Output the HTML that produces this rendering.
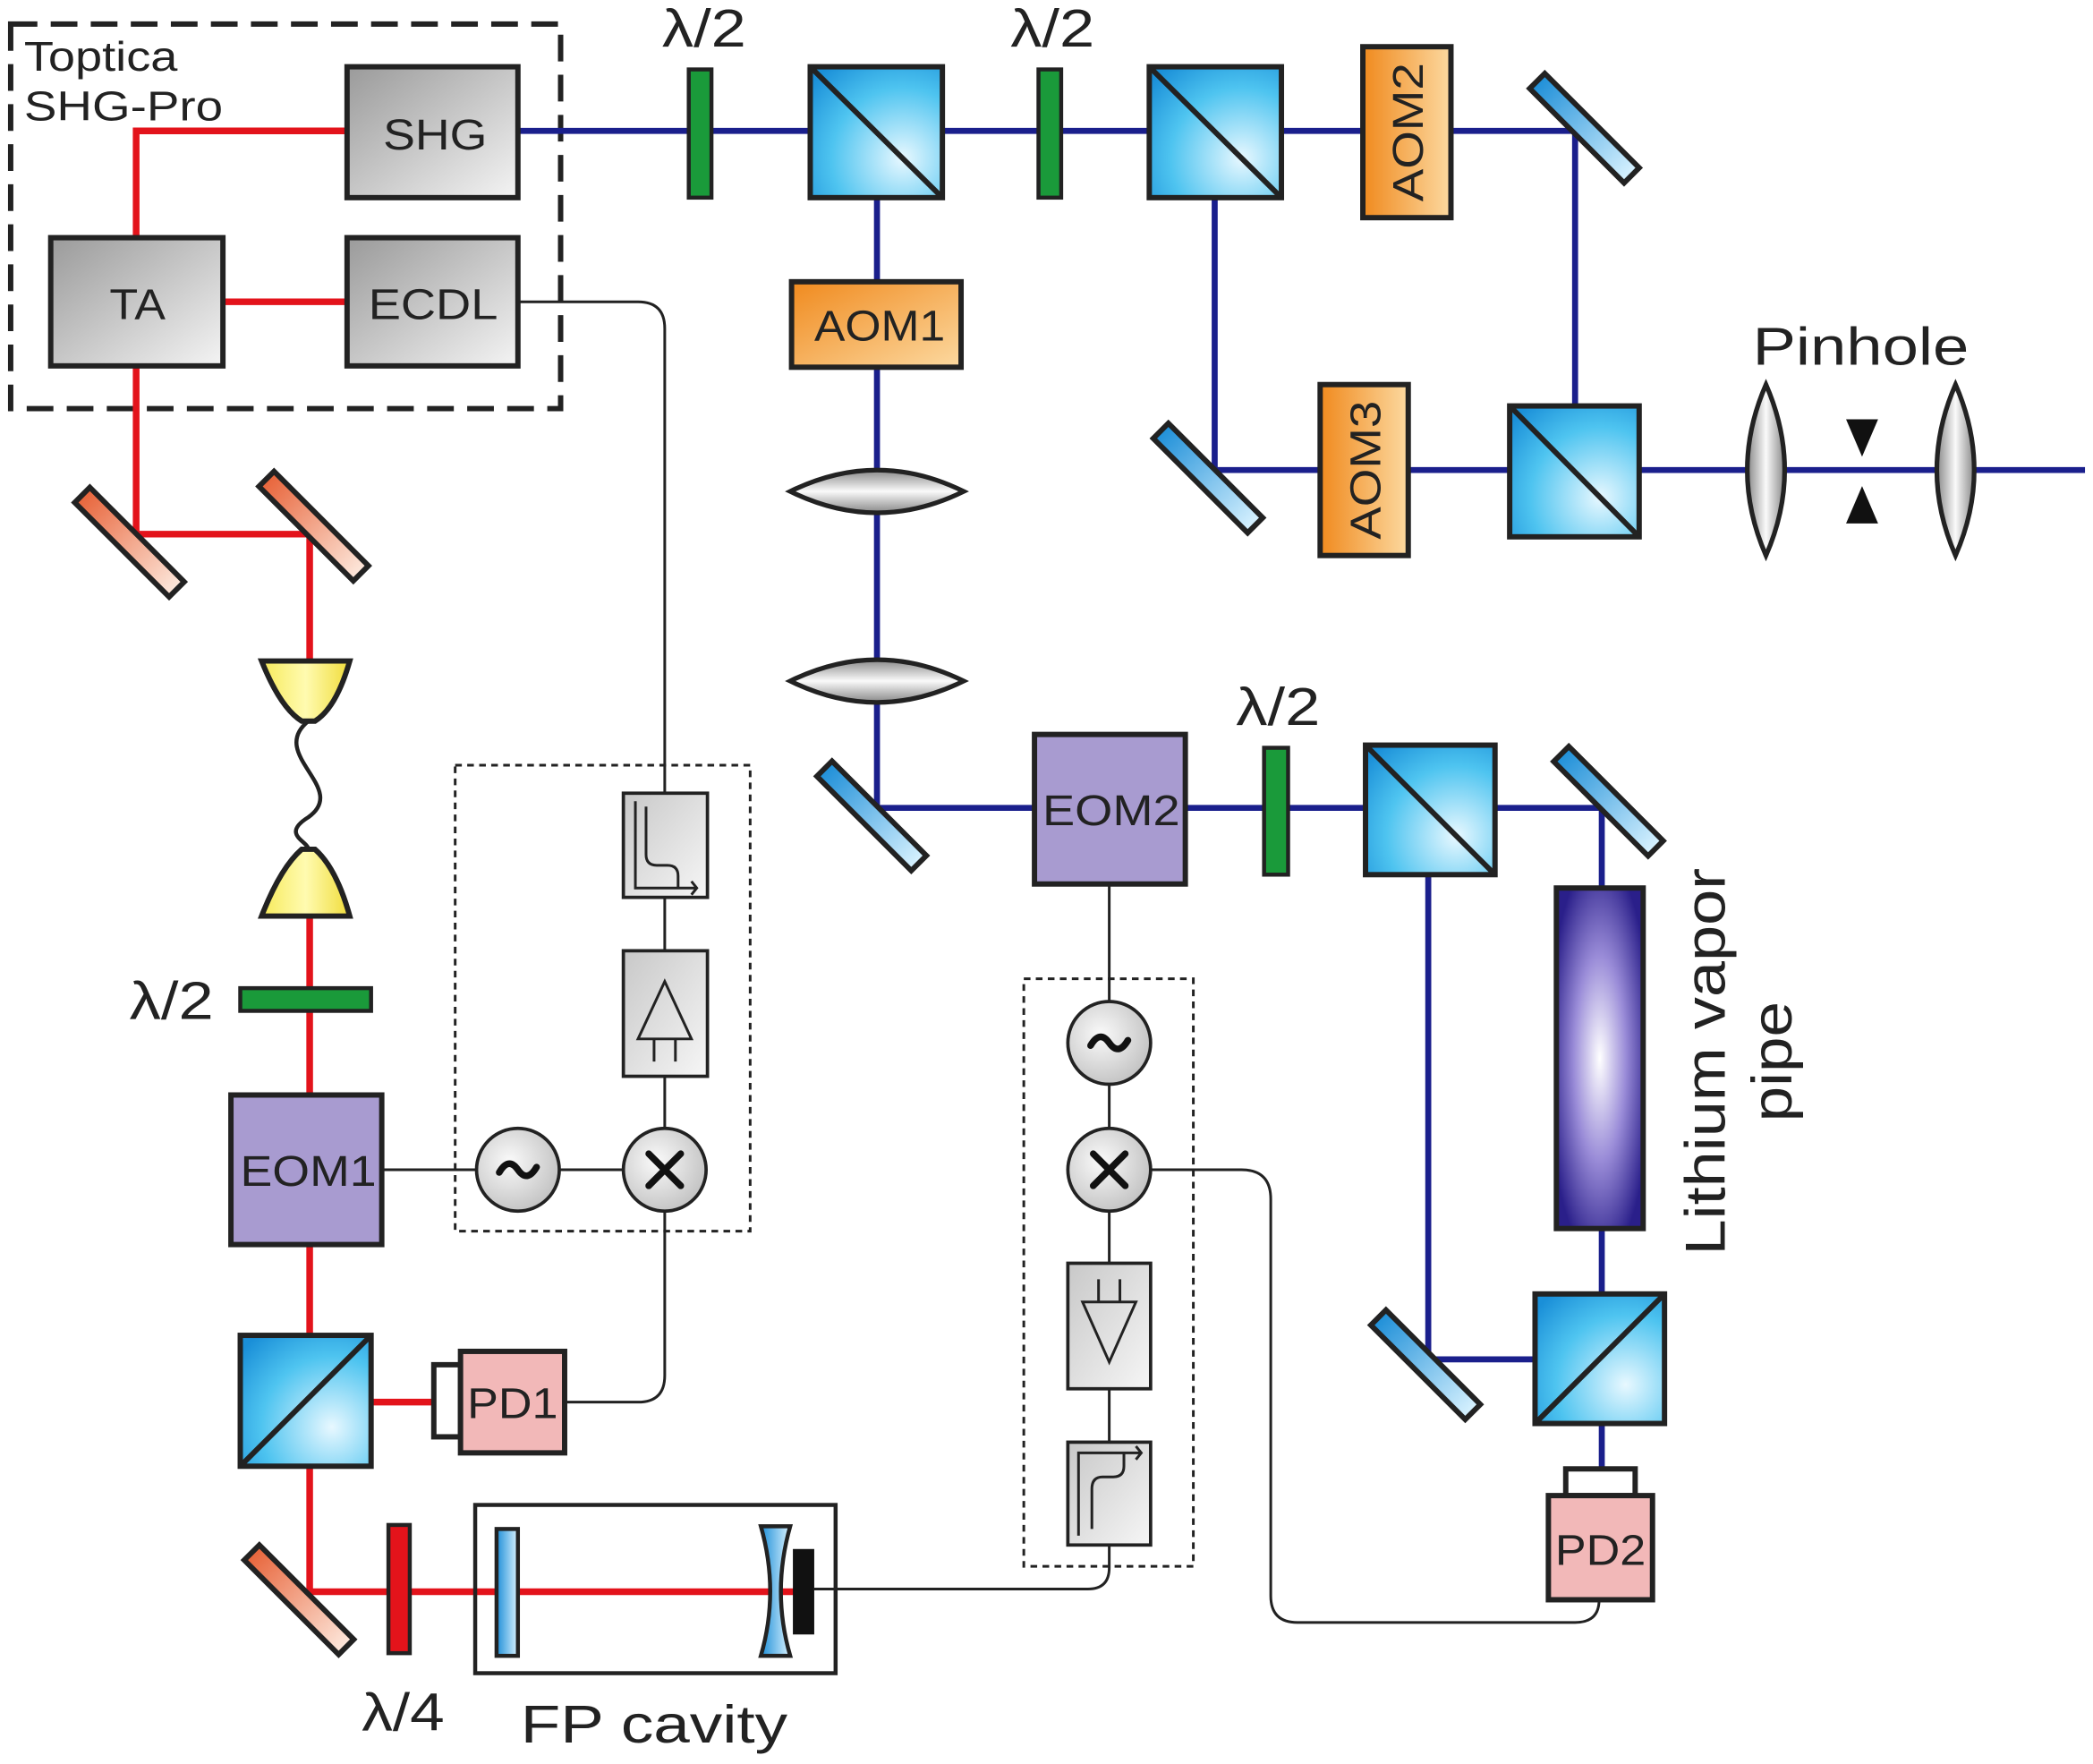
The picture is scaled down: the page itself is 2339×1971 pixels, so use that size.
<!DOCTYPE html>
<html><head><meta charset="utf-8"><style>html,body{margin:0;padding:0;background:#fff}svg{display:block}</style></head>
<body>
<svg width="2339" height="1971" viewBox="0 0 1568 1321" preserveAspectRatio="none" xmlns="http://www.w3.org/2000/svg" font-family="Liberation Sans, Arial, sans-serif">
<defs>
<linearGradient id="gray" x1="0" y1="0" x2="1" y2="1"><stop offset="0" stop-color="#9a9a9a"/><stop offset="1" stop-color="#f4f4f4"/></linearGradient>
<linearGradient id="gray2" x1="0" y1="0" x2="1" y2="1"><stop offset="0" stop-color="#c8c8c8"/><stop offset="1" stop-color="#f6f6f6"/></linearGradient>
<radialGradient id="cube" cx="0.7" cy="0.7" r="0.9"><stop offset="0" stop-color="#e8f8ff"/><stop offset="0.6" stop-color="#4ec4f0"/><stop offset="1" stop-color="#1a8fd8"/></radialGradient>
<linearGradient id="aom" x1="0" y1="0" x2="1" y2="1"><stop offset="0" stop-color="#f08a1e"/><stop offset="1" stop-color="#fcd9a0"/></linearGradient>
<linearGradient id="aomv" x1="0" y1="0" x2="1" y2="0"><stop offset="0" stop-color="#f08a1e"/><stop offset="1" stop-color="#fcd9a0"/></linearGradient>
<linearGradient id="mo" x1="0" y1="0" x2="1" y2="0"><stop offset="0" stop-color="#e8643a"/><stop offset="1" stop-color="#fde8dc"/></linearGradient>
<linearGradient id="mb" x1="0" y1="0" x2="1" y2="0"><stop offset="0" stop-color="#1e8fd8"/><stop offset="1" stop-color="#d8f2ff"/></linearGradient>
<linearGradient id="lens" x1="0" y1="0" x2="0" y2="1"><stop offset="0" stop-color="#888"/><stop offset="0.5" stop-color="#fafafa"/><stop offset="1" stop-color="#888"/></linearGradient>
<linearGradient id="lensv" x1="0" y1="0" x2="1" y2="0"><stop offset="0" stop-color="#888"/><stop offset="0.5" stop-color="#fafafa"/><stop offset="1" stop-color="#888"/></linearGradient>
<radialGradient id="li" cx="0.5" cy="0.5" r="0.6"><stop offset="0" stop-color="#ffffff"/><stop offset="0.5" stop-color="#9a8cd8"/><stop offset="1" stop-color="#2a1f8a"/></radialGradient>
<radialGradient id="circ" cx="0.4" cy="0.4" r="0.7"><stop offset="0" stop-color="#fafafa"/><stop offset="1" stop-color="#bdbdbd"/></radialGradient>
<linearGradient id="yel" x1="0" y1="0" x2="1" y2="0"><stop offset="0" stop-color="#f7ea5a"/><stop offset="0.5" stop-color="#fffbb0"/><stop offset="1" stop-color="#f0dc3a"/></linearGradient>
</defs>

<rect x="8" y="18" width="412" height="288" fill="none" stroke="#222" stroke-width="4" stroke-dasharray="20 10"/>
<text x="18" y="53" font-size="31" fill="#222" textLength="115" lengthAdjust="spacingAndGlyphs">Toptica</text>
<text x="18" y="90" font-size="31" fill="#222" textLength="149" lengthAdjust="spacingAndGlyphs">SHG-Pro</text>

<g stroke="#e3131b" stroke-width="5" fill="none">
<polyline points="260,98 102,98 102,178"/>
<line x1="167" y1="226" x2="260" y2="226"/>
<polyline points="102,274 102,400 232,400 232,500"/>
<line x1="232" y1="686" x2="232" y2="1192"/>
<line x1="232" y1="1050" x2="325" y2="1050"/>
<line x1="232" y1="1192" x2="595" y2="1192"/>
</g>

<g stroke="#1a1f8c" stroke-width="4.5" fill="none">
<polyline points="388,98 1180,98 1180,352"/>
<line x1="657" y1="98" x2="657" y2="605"/>
<polyline points="657,605 1200,605 1200,1120"/>
<polyline points="910,98 910,352 1562,352"/>
<polyline points="1070,605 1070,1018 1200,1018"/>
</g>

<g stroke="#222" stroke-width="2" fill="none">
<path d="M388,226 H478 Q498,226 498,246 V594"/>
<line x1="498" y1="672" x2="498" y2="712"/>
<line x1="498" y1="806" x2="498" y2="845"/>
<line x1="286" y1="876" x2="357" y2="876"/>
<line x1="419" y1="876" x2="467" y2="876"/>
<path d="M498,907 V1030 Q498,1050 478,1050 H423"/>
<line x1="831" y1="662" x2="831" y2="750"/>
<line x1="831" y1="812" x2="831" y2="845"/>
<line x1="831" y1="907" x2="831" y2="946"/>
<line x1="831" y1="1040" x2="831" y2="1080"/>
<path d="M610,1190 H815 Q831,1190 831,1174 V1157"/>
<path d="M862,876 H930 Q952,876 952,898 V1195 Q952,1215 972,1215 H1180 Q1198,1215 1198,1198"/>
</g>

<g stroke="#222" stroke-width="4">
<rect x="260" y="50" width="128" height="98" fill="url(#gray)"/>
<rect x="38" y="178" width="129" height="96" fill="url(#gray)"/>
<rect x="260" y="178" width="128" height="96" fill="url(#gray)"/>
</g>
<g font-size="32" fill="#222" lengthAdjust="spacingAndGlyphs">
<text x="287" y="112" textLength="78" lengthAdjust="spacingAndGlyphs">SHG</text>
<text x="82" y="239" textLength="42" lengthAdjust="spacingAndGlyphs">TA</text>
<text x="276" y="239" textLength="97" lengthAdjust="spacingAndGlyphs">ECDL</text>
</g>

<g stroke="#222" stroke-width="4">
<rect x="-50" y="-8" width="100" height="16" fill="url(#mo)" transform="translate(97,406) rotate(45)"/>
<rect x="-50" y="-8" width="100" height="16" fill="url(#mo)" transform="translate(235,394) rotate(45)"/>
<rect x="-50" y="-8" width="100" height="16" fill="url(#mo)" transform="translate(224,1198) rotate(45)"/>
<rect x="-50" y="-8" width="100" height="16" fill="url(#mb)" transform="translate(1187,96) rotate(45)"/>
<rect x="-50" y="-8" width="100" height="16" fill="url(#mb)" transform="translate(905,358) rotate(45)"/>
<rect x="-50" y="-8" width="100" height="16" fill="url(#mb)" transform="translate(653,611) rotate(45)"/>
<rect x="-50" y="-8" width="100" height="16" fill="url(#mb)" transform="translate(1205,600) rotate(45)"/>
<rect x="-50" y="-8" width="100" height="16" fill="url(#mb)" transform="translate(1068,1022) rotate(45)"/>
</g>

<g stroke="#222" stroke-width="4">
<path d="M196,495 H262 Q252,530 236,540 H226 Q210,530 196,495 Z" fill="url(#yel)"/>
<path d="M196,686 H262 Q252,650 236,636 H226 Q210,650 196,686 Z" fill="url(#yel)"/>
<path d="M231,540 C200,565 262,590 231,612 C210,625 231,630 231,636" fill="none" stroke-width="3"/>
</g>

<g stroke="#222" stroke-width="3">
<rect x="180" y="740" width="98" height="17" fill="#1a9a3a"/>
<rect x="516" y="52" width="17" height="96" fill="#1a9a3a"/>
<rect x="778" y="52" width="17" height="96" fill="#1a9a3a"/>
<rect x="947" y="560" width="18" height="95" fill="#1a9a3a"/>
<rect x="291" y="1142" width="16" height="96" fill="#e3131b"/>
</g>
<g font-size="40" fill="#222">
<text x="97" y="763" textLength="63" lengthAdjust="spacingAndGlyphs">λ/2</text>
<text x="496" y="35" textLength="63" lengthAdjust="spacingAndGlyphs">λ/2</text>
<text x="757" y="35" textLength="63" lengthAdjust="spacingAndGlyphs">λ/2</text>
<text x="926" y="543" textLength="63" lengthAdjust="spacingAndGlyphs">λ/2</text>
<text x="271" y="1296" textLength="62" lengthAdjust="spacingAndGlyphs">λ/4</text>
<text x="390" y="1305" textLength="200" lengthAdjust="spacingAndGlyphs">FP cavity</text>
<text x="1313" y="273" textLength="162" lengthAdjust="spacingAndGlyphs">Pinhole</text>
</g>

<g stroke="#222" stroke-width="4" fill="#a89bd0">
<rect x="173" y="820" width="113" height="112"/>
<rect x="775" y="550" width="113" height="112"/>
</g>
<g font-size="32" fill="#222">
<text x="180" y="888" textLength="102" lengthAdjust="spacingAndGlyphs">EOM1</text>
<text x="781" y="618" textLength="103" lengthAdjust="spacingAndGlyphs">EOM2</text>
</g>

<g stroke="#222" stroke-width="4" fill="url(#cube)">
<rect x="607" y="50" width="99" height="98"/><line x1="607" y1="50" x2="706" y2="148"/>
<rect x="861" y="50" width="99" height="98"/><line x1="861" y1="50" x2="960" y2="148"/>
<rect x="1131" y="304" width="97" height="98"/><line x1="1131" y1="304" x2="1228" y2="402"/>
<rect x="1023" y="558" width="97" height="97"/><line x1="1023" y1="558" x2="1120" y2="655"/>
<rect x="1150" y="969" width="97" height="97"/><line x1="1150" y1="1066" x2="1247" y2="969"/>
<rect x="180" y="1000" width="98" height="98"/><line x1="180" y1="1098" x2="278" y2="1000"/>
</g>

<g stroke="#222" stroke-width="4">
<rect x="593" y="211" width="127" height="64" fill="url(#aom)"/>
<rect x="1021" y="35" width="66" height="128" fill="url(#aomv)"/>
<rect x="989" y="288" width="66" height="128" fill="url(#aomv)"/>
</g>
<g font-size="32" fill="#222">
<text x="610" y="255" textLength="98" lengthAdjust="spacingAndGlyphs">AOM1</text>
<text transform="translate(1066,151) rotate(-90)" textLength="104" lengthAdjust="spacingAndGlyphs">AOM2</text>
<text transform="translate(1034,404) rotate(-90)" textLength="104" lengthAdjust="spacingAndGlyphs">AOM3</text>
</g>

<g stroke="#222" stroke-width="3.5">
<path d="M592,368 Q657,336 722,368 Q657,400 592,368 Z" fill="url(#lens)"/>
<path d="M592,510 Q657,478 722,510 Q657,542 592,510 Z" fill="url(#lens)"/>
<path d="M1323,288 Q1295,352 1323,416 Q1351,352 1323,288 Z" fill="url(#lensv)"/>
<path d="M1465,288 Q1437,352 1465,416 Q1493,352 1465,288 Z" fill="url(#lensv)"/>
</g>
<polygon points="1383,314 1407,314 1395,342" fill="#111"/>
<polygon points="1383,392 1407,392 1395,364" fill="#111"/>

<rect x="1166" y="665" width="65" height="255" fill="url(#li)" stroke="#222" stroke-width="4"/>
<text transform="translate(1292,940) rotate(-90)" font-size="42" fill="#222" textLength="290" lengthAdjust="spacingAndGlyphs">Lithium vapor</text>
<text transform="translate(1342,840) rotate(-90)" font-size="42" fill="#222" textLength="90" lengthAdjust="spacingAndGlyphs">pipe</text>

<g stroke="#222" stroke-width="4">
<rect x="325" y="1022" width="20" height="54" fill="#fff"/>
<rect x="345" y="1012" width="78" height="76" fill="#f2b8b8"/>
<rect x="1173" y="1100" width="52" height="20" fill="#fff"/>
<rect x="1160" y="1120" width="78" height="78" fill="#f2b8b8"/>
</g>
<g font-size="32" fill="#222">
<text x="350" y="1062" textLength="68" lengthAdjust="spacingAndGlyphs">PD1</text>
<text x="1165" y="1172" textLength="68" lengthAdjust="spacingAndGlyphs">PD2</text>
</g>

<rect x="356" y="1127" width="270" height="126" fill="none" stroke="#222" stroke-width="3"/>
<rect x="372" y="1145" width="16" height="95" fill="url(#mb)" stroke="#222" stroke-width="3"/>
<path d="M570,1143 H592 Q578,1192 592,1240 H570 Q584,1192 570,1143 Z" fill="url(#mb)" stroke="#222" stroke-width="3"/>
<rect x="594" y="1160" width="16" height="64" fill="#111"/>

<rect x="341" y="573" width="221" height="349" fill="none" stroke="#222" stroke-width="2" stroke-dasharray="5 4"/>
<rect x="767" y="733" width="127" height="440" fill="none" stroke="#222" stroke-width="2" stroke-dasharray="5 4"/>

<g stroke="#222" stroke-width="2.5">
<rect x="467" y="594" width="63" height="78" fill="url(#gray2)"/>
<rect x="467" y="712" width="63" height="94" fill="url(#gray2)"/>
<rect x="800" y="946" width="62" height="94" fill="url(#gray2)"/>
<rect x="800" y="1080" width="62" height="77" fill="url(#gray2)"/>
<circle cx="388" cy="876" r="31" fill="url(#circ)"/>
<circle cx="498" cy="876" r="31" fill="url(#circ)"/>
<circle cx="831" cy="781" r="31" fill="url(#circ)"/>
<circle cx="831" cy="876" r="31" fill="url(#circ)"/>
</g>
<g stroke="#222" fill="none" stroke-width="2">
<path d="M476,600 V665 H522"/><path d="M518,660 L522,665 L518,670"/>
<path d="M484,604 V640 Q484,648 492,648 H500 Q508,648 508,656 V665"/>
<path d="M498,735 L478,778 H518 Z"/><path d="M490,778 V795 M506,778 V795"/>
<path d="M831,1020 L811,975 H851 Z"/><path d="M823,958 V975 M839,958 V975"/>
<path d="M808,1150 V1088 H855"/><path d="M851,1083 L855,1088 L851,1093"/>
<path d="M818,1145 V1115 Q818,1106 826,1106 H834 Q842,1106 842,1098 V1088"/>
</g>
<g stroke="#111" stroke-width="5" fill="none" stroke-linecap="round">
<path d="M374,878 Q381,866 388,876 Q395,886 402,874"/>
<path d="M817,783 Q824,771 831,781 Q838,791 845,779"/>
<path d="M486,864 L510,888 M510,864 L486,888"/>
<path d="M819,864 L843,888 M843,864 L819,888"/>
</g>
</svg>
</body></html>
